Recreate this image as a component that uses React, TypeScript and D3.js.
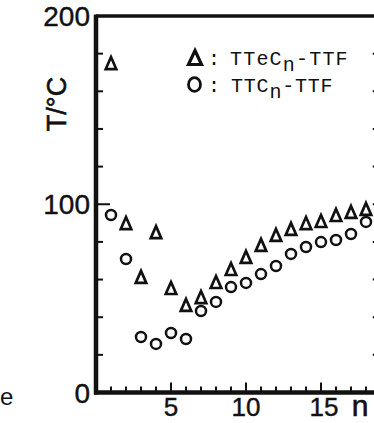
import React from "react";
import * as d3 from "d3";

// chain length n and transition temperatures
const nValues = [1, 2, 3, 4, 5, 6, 7, 8, 9, 10, 11, 12, 13, 14, 15, 16, 17, 18];
const tteTemps = [175, 90, 61.4, 85.2, 55.5, 46.5, 50.7, 58.7, 65.6, 72, 78.4, 83.7, 86.9, 90, 91.1, 94.3, 95.9, 97.5];
const ttcTemps = [94.3, 70.9, 29.5, 25.8, 31.6, 28.4, 43.3, 48.1, 56, 58.2, 62.9, 67.2, 73.6, 77.3, 79.9, 81, 84.2, 90.6];

const yTickLabels = [0, 100, 200];
const xTickLabels = [5, 10, 15];

const W = 374;
const H = 423;

const LABEL_FONT = "'Liberation Sans', Arial, sans-serif";
const MONO_FONT = "'Liberation Mono', 'Courier New', monospace";

function triPath(cx: number, cy: number, w: number, h: number) {
  return `M${cx},${cy - h / 2}L${cx + w / 2},${cy + h / 2}L${cx - w / 2},${cy + h / 2}Z`;
}

export default function App() {
  const x = d3.scaleLinear().domain([0, 18.85]).range([96, 378.75]);
  const y = d3.scaleLinear().domain([0, 200]).range([392.5, 16]);

  const xMinor = d3.range(1, 19);
  const yMinor = d3.range(20, 200, 20);

  const left = x(0);
  const right = x(18.85);
  const top = y(200);
  const bottom = y(0);

  return (
    <div style={{ position: "fixed", left: 0, top: 0 }}>
      <svg width={W} height={H} style={{ display: "block", background: "#fff" }}>
        {/* frame */}
        <line x1={left} x2={right + 2} y1={top} y2={top} stroke="#111" strokeWidth={3.5} />
        <line x1={right} x2={right} y1={top} y2={bottom} stroke="#111" strokeWidth={3.5} />
        <line x1={left} x2={left} y1={top - 1.5} y2={bottom + 2} stroke="#111" strokeWidth={4.5} />
        <line x1={left - 2} x2={right + 2} y1={bottom} y2={bottom} stroke="#111" strokeWidth={4.5} />

        {/* x ticks, pointing inward */}
        {xMinor.map((n) => {
          const major = n % 5 === 0;
          return (
            <line
              key={`xt${n}`}
              x1={x(n)}
              x2={x(n)}
              y1={bottom}
              y2={bottom - (major ? 10 : 6)}
              stroke="#111"
              strokeWidth={2}
            />
          );
        })}

        {/* y ticks left and right */}
        {yMinor.map((v) => (
          <g key={`yt${v}`}>
            <line
              x1={left}
              x2={left + (v === 100 ? 14 : 7)}
              y1={y(v)}
              y2={y(v)}
              stroke="#111"
              strokeWidth={2}
            />
            <line x1={right - 6} x2={right} y1={y(v)} y2={y(v)} stroke="#111" strokeWidth={2} />
          </g>
        ))}

        {/* y tick labels */}
        {yTickLabels.map((v) => (
          <text
            key={`yl${v}`}
            x={left - 6}
            y={y(v) + 10}
            textAnchor="end"
            fontFamily={LABEL_FONT}
            fontSize={28}
            fill="#111"
            stroke="#111"
            strokeWidth={0.4}
          >
            {v}
          </text>
        ))}

        {/* x tick labels */}
        {xTickLabels.map((n) => (
          <text
            key={`xl${n}`}
            x={x(n) + (n === 15 ? 3 : 0)}
            y={416}
            textAnchor="middle"
            fontFamily={LABEL_FONT}
            fontSize={26}
            fill="#111"
            stroke="#111"
            strokeWidth={0.4}
          >
            {n}
          </text>
        ))}
        <text
          x={360}
          y={416}
          textAnchor="middle"
          fontFamily={LABEL_FONT}
          fontSize={30}
          fill="#111"
          stroke="#111"
          strokeWidth={0.6}
        >
          n
        </text>

        {/* axis title */}
        <text
          transform="translate(66,104) rotate(-90)"
          textAnchor="middle"
          fontFamily={LABEL_FONT}
          fontSize={27}
          fill="#111"
          stroke="#111"
          strokeWidth={0.6}
        >
          T/°C
        </text>

        {/* stray caption letter at the left edge */}
        <text x={0} y={405} fontFamily={LABEL_FONT} fontSize={24} fill="#111">
          e
        </text>

        {/* data: TTeCn-TTF triangles */}
        {nValues.map((n, i) => (
          <path
            key={`tri${n}`}
            d={triPath(x(n), y(tteTemps[i]), 10.5, 12)}
            fill="none"
            stroke="#111"
            strokeWidth={2.7}
            strokeLinejoin="miter"
          />
        ))}

        {/* data: TTCn-TTF circles */}
        {nValues.map((n, i) => (
          <circle
            key={`cir${n}`}
            cx={x(n)}
            cy={y(ttcTemps[i])}
            r={5}
            fill="none"
            stroke="#111"
            strokeWidth={2.5}
          />
        ))}

        {/* legend */}
        <path d={triPath(195, 57.5, 13, 14)} fill="none" stroke="#111" strokeWidth={3.2} />
        <ellipse cx={194.5} cy={84.5} rx={6} ry={6.8} fill="none" stroke="#111" strokeWidth={2.8} />
        <text x={208} y={65} fontFamily={MONO_FONT} fontSize={20} fill="#111">:</text>
        <text x={208} y={92} fontFamily={MONO_FONT} fontSize={20} fill="#111">:</text>
        <text x={230} y={65} fontFamily={MONO_FONT} fontSize={20} letterSpacing={1.2} fill="#111">
          TTeC
          <tspan dy={6}>n</tspan>
          <tspan dy={-6}>-TTF</tspan>
        </text>
        <text x={231} y={92} fontFamily={MONO_FONT} fontSize={20} letterSpacing={0.8} fill="#111">
          TTC
          <tspan dy={6}>n</tspan>
          <tspan dy={-6}>-TTF</tspan>
        </text>
      </svg>
    </div>
  );
}
